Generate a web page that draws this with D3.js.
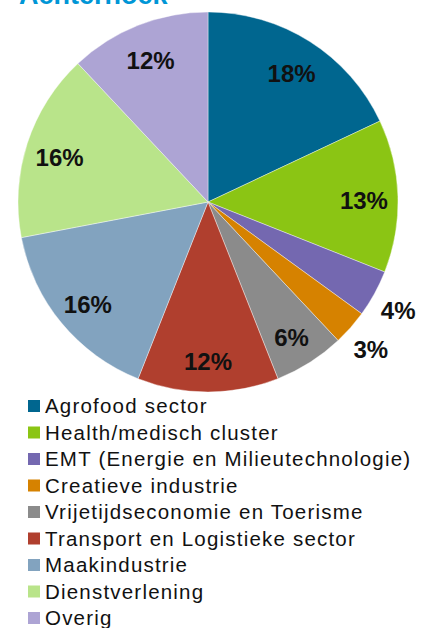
<!DOCTYPE html>
<html>
<head>
<meta charset="utf-8">
<script src="https://cdn.jsdelivr.net/npm/d3@7"></script>
<style>
  body { margin: 0; background: #fff; }
  svg { display: block; }
</style>
</head>
<body>
<script>
// sectors, shares in percent, colours
var sectors = ["Agrofood sector", "Health/medisch cluster", "EMT (Energie en Milieutechnologie)",
    "Creatieve industrie", "Vrijetijdseconomie en Toerisme", "Transport en Logistieke sector",
    "Maakindustrie", "Dienstverlening", "Overig"];
var shares = [18, 13, 4, 3, 6, 12, 16, 16, 12];
var colors = ["#00668f", "#8bc514", "#7468b0", "#d68200", "#8b8b8b", "#b03f2e", "#82a3bf", "#b9e48a", "#ada4d4"];
var outside = [false, false, true, true, false, false, false, false, false];

var width = 427, height = 628;
var cx = 208, cy = 202, radius = 190;

var svg = d3.select("body").append("svg")
    .attr("width", width)
    .attr("height", height);

// title, mostly cut off at the top
svg.append("text")
    .attr("x", 19)
    .attr("y", 4)
    .attr("fill", "#0096d6")
    .style("font-family", "'Liberation Sans', Arial, sans-serif")
    .style("font-weight", "bold")
    .style("font-size", "27px")
    .text("Achterhoek");

var data = sectors.map(function(s, i) {
    return { name: s, value: shares[i], color: colors[i], outside: outside[i] };
});

var pie = d3.pie().sort(null).value(function(d) { return d.value; });
var arc = d3.arc().innerRadius(0).outerRadius(radius);
var labelArc = d3.arc().innerRadius(156).outerRadius(156);
var outerArc = d3.arc().innerRadius(217).outerRadius(217);

var g = svg.append("g").attr("transform", "translate(" + cx + "," + cy + ")");

var arcs = pie(data);

g.selectAll(".slice")
    .data(arcs)
    .enter()
    .append("path")
    .attr("class", "slice")
    .attr("d", arc)
    .attr("fill", function(d) { return d.data.color; })
    .attr("stroke", "#fff")
    .attr("stroke-width", 0.4);

g.selectAll(".label")
    .data(arcs)
    .enter()
    .append("text")
    .attr("class", "label")
    .attr("transform", function(d) {
        var c = d.data.outside ? outerArc.centroid(d) : labelArc.centroid(d);
        return "translate(" + c + ")";
    })
    .attr("text-anchor", "middle")
    .attr("dy", "0.5em")
    .attr("fill", "#111")
    .style("font-family", "'Liberation Sans', Arial, sans-serif")
    .style("font-weight", "bold")
    .style("font-size", "24px")
    .text(function(d) { return d.data.value + "%"; });

// legend
var y = d3.scalePoint().domain(sectors).range([406, 618]);

var legend = svg.selectAll(".legend")
    .data(data)
    .enter()
    .append("g")
    .attr("class", "legend")
    .attr("transform", function(d) { return "translate(28," + y(d.name) + ")"; });

legend.append("rect")
    .attr("x", 0)
    .attr("y", -6)
    .attr("width", 12)
    .attr("height", 12)
    .attr("fill", function(d) { return d.color; });

legend.append("text")
    .attr("x", 17)
    .attr("dy", "0.36em")
    .attr("fill", "#111")
    .style("font-family", "'Liberation Sans', Arial, sans-serif")
    .style("font-size", "20.5px")
    .style("letter-spacing", "1.2px")
    .text(function(d) { return d.name; });
</script>
</body>
</html>
